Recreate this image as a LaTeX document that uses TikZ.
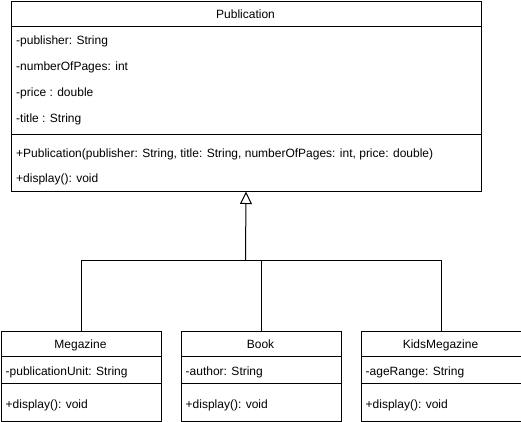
\documentclass[tikz,border=0pt]{standalone}
\usepackage{fontspec}
\setmainfont{Liberation Sans}
\usetikzlibrary{arrows.meta,positioning}
\definecolor{umInk}{HTML}{000000}
\tikzset{
  um class/.style={draw=umInk, line width=1pt, fill=white, anchor=north west, inner sep=0pt},
  um rule/.style={draw=umInk, line width=1pt},
  um link/.style={draw=umInk, line width=1pt},
  um inherit/.style={
    draw=umInk,
    line width=1pt,
    -{Triangle[open, length=12.5pt, width=12pt]}
  },
  um name/.style={anchor=base, inner sep=0pt, text=umInk, font=\fontsize{12pt}{14pt}\selectfont},
  um member/.style={anchor=base west, inner sep=0pt, text=umInk, font=\fontsize{12pt}{14pt}\selectfont}
}
\begin{document}
\begin{tikzpicture}[x=1pt,y=-1pt]
  \useasboundingbox (0,0) rectangle (521,421);

  % superclass
  \node[um class, minimum width=470pt, minimum height=190pt] (pub) at (10.5,0.5) {};
  \draw[um rule] (10.5,26.5) -- (480.5,26.5);
  \draw[um rule] (10.5,134.5) -- (480.5,134.5);
  \node[um name] (pubName) at (245.5,18.3) {Publication};
  \node[um member] (pubPublisher) at (16,44.8) {-publisher: String};
  \node[um member] (pubPages) at (16,70.3) {-numberOfPages: int};
  \node[um member] (pubPrice) at (16,96) {-price : double};
  \node[um member] (pubTitle) at (16,122) {-title : String};
  \node[um member] (pubCtor) at (16,157.5) {+Publication(publisher: String, title: String, numberOfPages: int, price: double)};
  \node[um member] (pubDisplay) at (16,182) {+display(): void};

  % subclasses
  \node[um class, minimum width=160pt, minimum height=90pt] (mag) at (0.5,330.5) {};
  \node[um class, minimum width=160pt, minimum height=90pt] (book) at (180.5,330.5) {};
  \node[um class, minimum width=160pt, minimum height=90pt] (kids) at (360.5,330.5) {};
  \draw[um rule] (0.5,356.5) -- (160.5,356.5);
  \draw[um rule] (0.5,383.5) -- (160.5,383.5);
  \draw[um rule] (180.5,356.5) -- (340.5,356.5);
  \draw[um rule] (180.5,383.5) -- (340.5,383.5);
  \draw[um rule] (360.5,356.5) -- (520.5,356.5);
  \draw[um rule] (360.5,383.5) -- (520.5,383.5);

  \node[um name] (magName) at (80.5,348.3) {Megazine};
  \node[um member] (magUnit) at (5.5,375) {-publicationUnit: String};
  \node[um member] (magDisplay) at (5.5,408.3) {+display(): void};
  \node[um name] (bookName) at (260.5,348.3) {Book};
  \node[um member] (bookAuthor) at (185.5,375) {-author: String};
  \node[um member] (bookDisplay) at (185.5,408.3) {+display(): void};
  \node[um name] (kidsName) at (440.5,348.3) {KidsMegazine};
  \node[um member] (kidsAge) at (365.5,375) {-ageRange: String};
  \node[um member] (kidsDisplay) at (365.5,408.3) {+display(): void};

  % generalisation
  \coordinate (bus) at (245.5,260.5);
  \draw[um link] (mag.north) |- (bus);
  \draw[um link] (kids.north) |- (bus);
  \draw[um link] (book.north) -- (book.north |- bus);
  \draw[um inherit] (bus) -- (pub.south);
\end{tikzpicture}
\end{document}
